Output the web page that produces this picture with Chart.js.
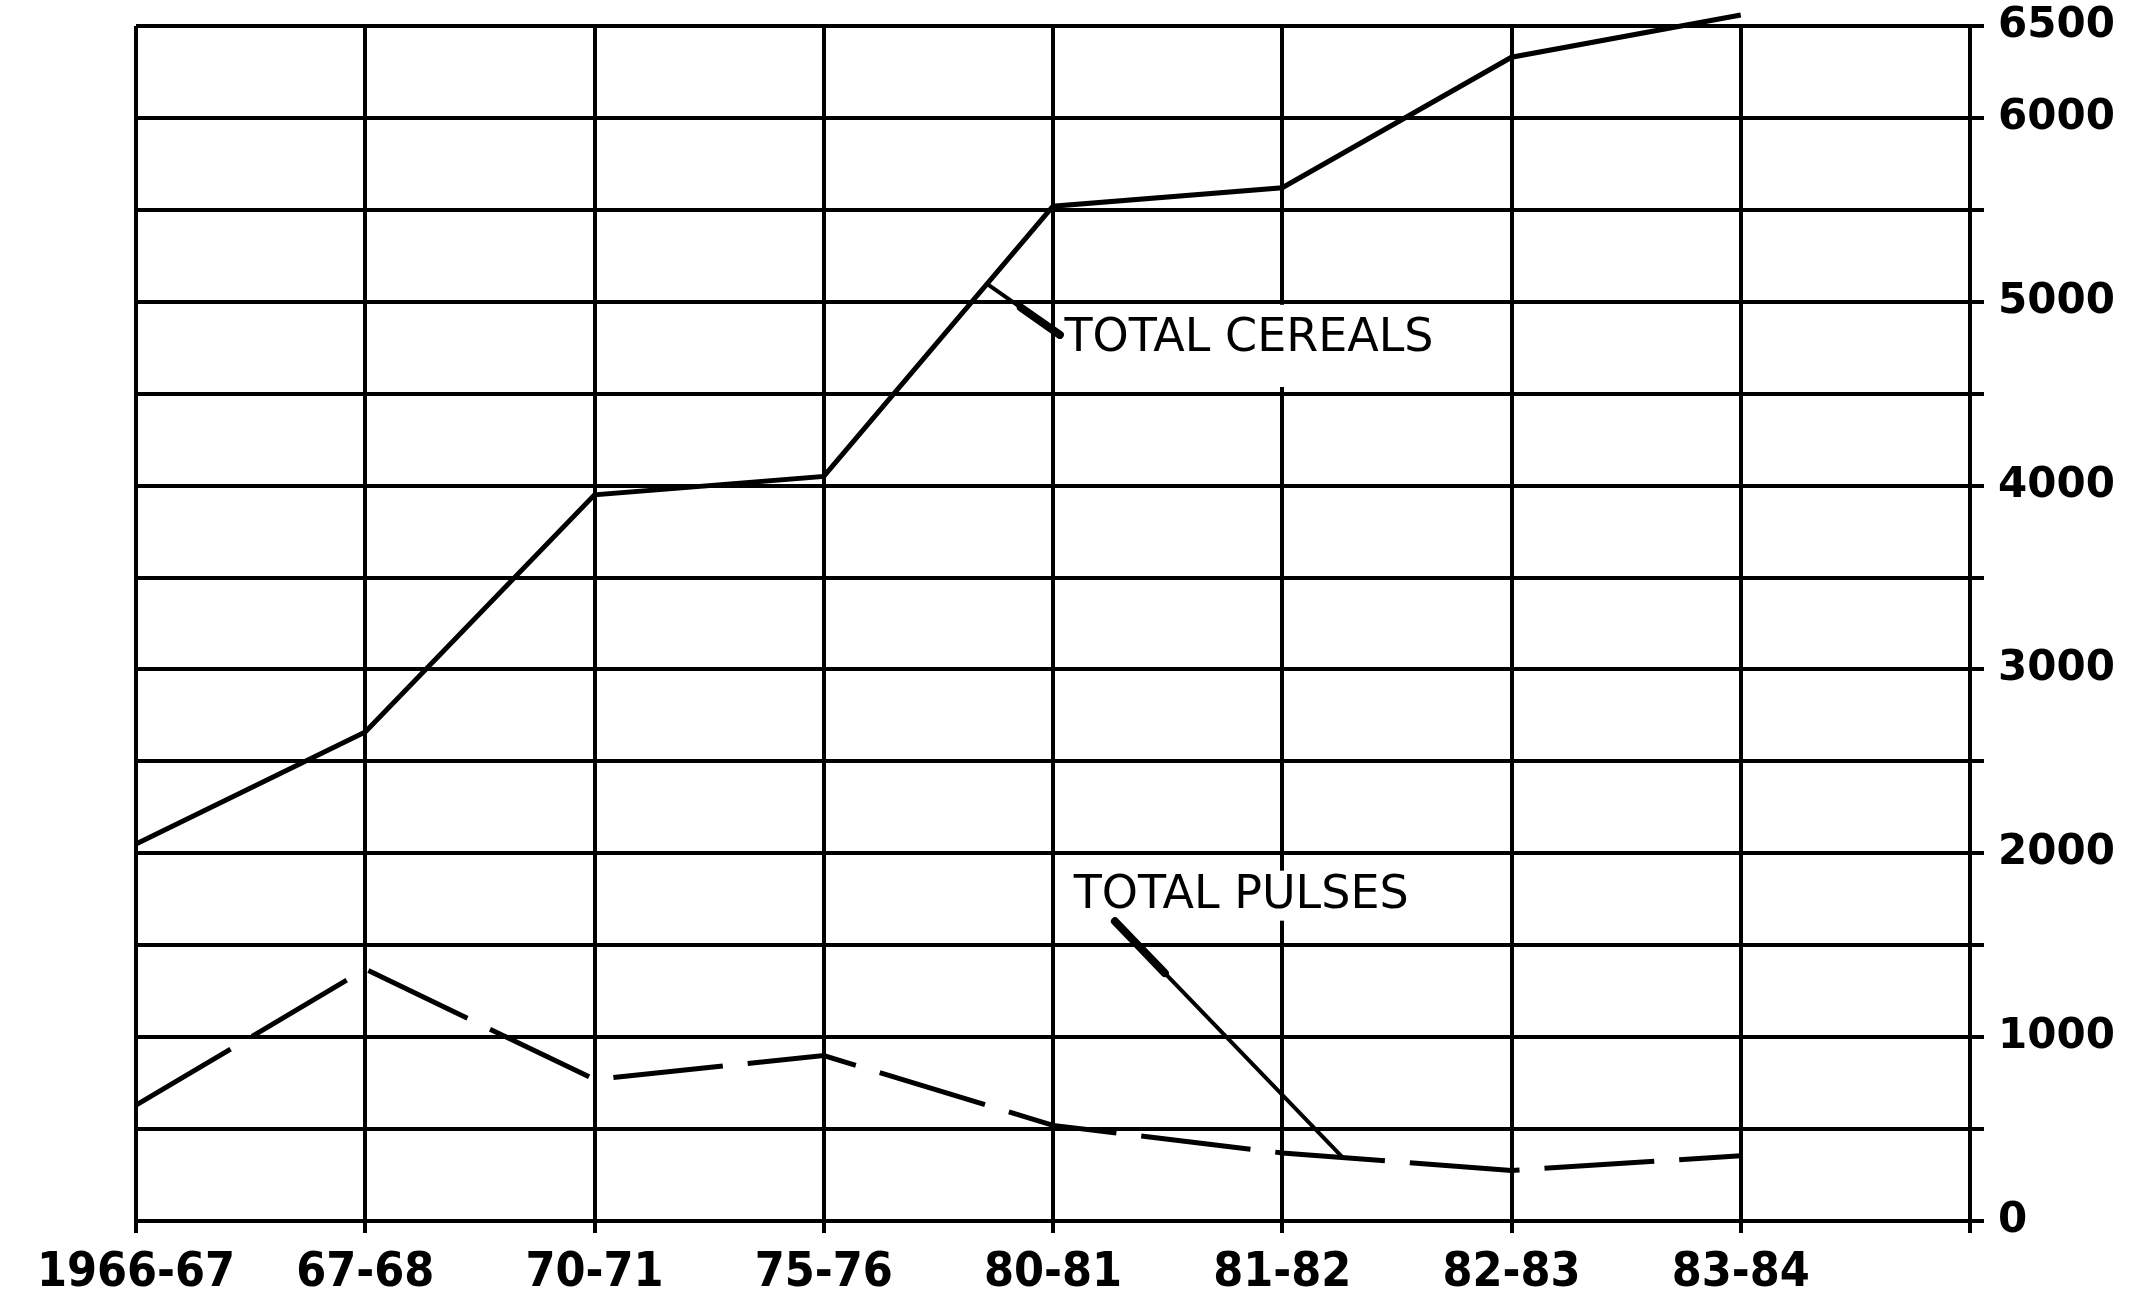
<!DOCTYPE html>
<html>
<head>
<meta charset="utf-8">
<script src="https://cdn.jsdelivr.net/npm/chart.js@4.4.0/dist/chart.umd.min.js"></script>
<style>
  html, body { margin: 0; padding: 0; background: #fff; }
</style>
</head>
<body>
<canvas id="c" width="2135" height="1294"></canvas>
<script>
// x positions: the last empty slot is the right-hand axis
const years = ['1966-67', '67-68', '70-71', '75-76', '80-81', '81-82', '82-83', '83-84', ''];
const cereals = [2050, 2660, 3950, 4050, 5520, 5620, 6330, 6560];
const pulses = [630, 1370, 770, 900, 520, 370, 275, 355];
const labelledTicks = [0, 1000, 2000, 3000, 4000, 5000, 6000, 6500];

// labels written on the plot, placed in data units (x = category index)
const notes = [
  { text: 'TOTAL CEREALS', x: 4.05, y: 4800, boxBottom: 4520, tip: [4.03, 4820], end: [3.72, 5090] },
  { text: 'TOTAL PULSES', x: 4.09, y: 1775, boxBottom: null, tip: [4.27, 1630], end: [5.26, 350] },
];

const notesPlugin = {
  id: 'notes',
  beforeDatasetsDraw(chart) {
    const { ctx, scales: { x, y } } = chart;
    ctx.save();
    ctx.font = '46px "DejaVu Sans"';
    ctx.textBaseline = 'middle';
    notes.forEach(n => {
      const px = x.getPixelForValue(n.x);
      const py = y.getPixelForValue(n.y);
      const w = ctx.measureText(n.text).width;
      const top = n.boxBottom != null ? y.getPixelForValue(5000) + 3 : py - 24;
      const bottom = n.boxBottom != null ? y.getPixelForValue(n.boxBottom) - 3 : py + 26;
      ctx.fillStyle = '#fff';
      ctx.fillRect(px - 4, top, w + 10, bottom - top);
      ctx.fillStyle = '#000';
      ctx.fillText(n.text, px, py + 1);

      // leader: thick near the text, thin towards the line
      const x0 = x.getPixelForValue(n.tip[0]), y0 = y.getPixelForValue(n.tip[1]);
      const x1 = x.getPixelForValue(n.end[0]), y1 = y.getPixelForValue(n.end[1]);
      ctx.strokeStyle = '#000';
      ctx.lineCap = 'round';
      ctx.lineWidth = 4;
      ctx.beginPath(); ctx.moveTo(x0, y0); ctx.lineTo(x1, y1); ctx.stroke();
      const k = n.boxBottom != null ? 0.55 : 0.22;
      ctx.lineWidth = 8;
      ctx.beginPath(); ctx.moveTo(x0, y0); ctx.lineTo(x0 + (x1 - x0) * k, y0 + (y1 - y0) * k); ctx.stroke();
    });
    ctx.restore();
  }
};

new Chart(document.getElementById('c'), {
  type: 'line',
  data: {
    labels: years,
    datasets: [
      {
        label: 'TOTAL CEREALS',
        data: cereals,
        borderColor: '#000',
        borderWidth: 5,
        pointRadius: 0,
        tension: 0,
        clip: false,
      },
      {
        label: 'TOTAL PULSES',
        data: pulses,
        borderColor: '#000',
        borderWidth: 5,
        borderDash: [110, 25],
        pointRadius: 0,
        tension: 0,
        clip: false,
      },
    ],
  },
  plugins: [notesPlugin],
  options: {
    responsive: false,
    animation: false,
    devicePixelRatio: 1,
    layout: { padding: { top: 26, left: 136, right: 0, bottom: 0 } },
    plugins: {
      legend: { display: false },
      tooltip: { enabled: false },
    },
    scales: {
      x: {
        type: 'category',
        offset: false,
        grid: { color: '#000', lineWidth: 4, tickLength: 12, tickWidth: 4 },
        border: { display: true, color: '#000', width: 4 },
        ticks: {
          color: '#000',
          font: { family: '"DejaVu Sans Condensed", "DejaVu Sans"', size: 48, weight: 'bold' },
          padding: 12,
          autoSkip: false,
          maxRotation: 0,
        },
        afterFit: axis => { axis.height = 73; },
      },
      y: {
        position: 'right',
        min: 0,
        max: 6500,
        grid: { color: '#000', lineWidth: 4, tickLength: 14, tickWidth: 4 },
        border: { display: true, color: '#000', width: 4 },
        ticks: {
          stepSize: 500,
          color: '#000',
          font: { family: '"DejaVu Sans"', size: 42, weight: 'bold' },
          padding: 14,
          callback: v => labelledTicks.includes(v) ? String(v) : '',
        },
        afterFit: axis => {
          axis.width = 165;
          axis.paddingTop = 20;
          axis.paddingBottom = 20;
        },
      },
    },
  },
});
</script>
</body>
</html>
